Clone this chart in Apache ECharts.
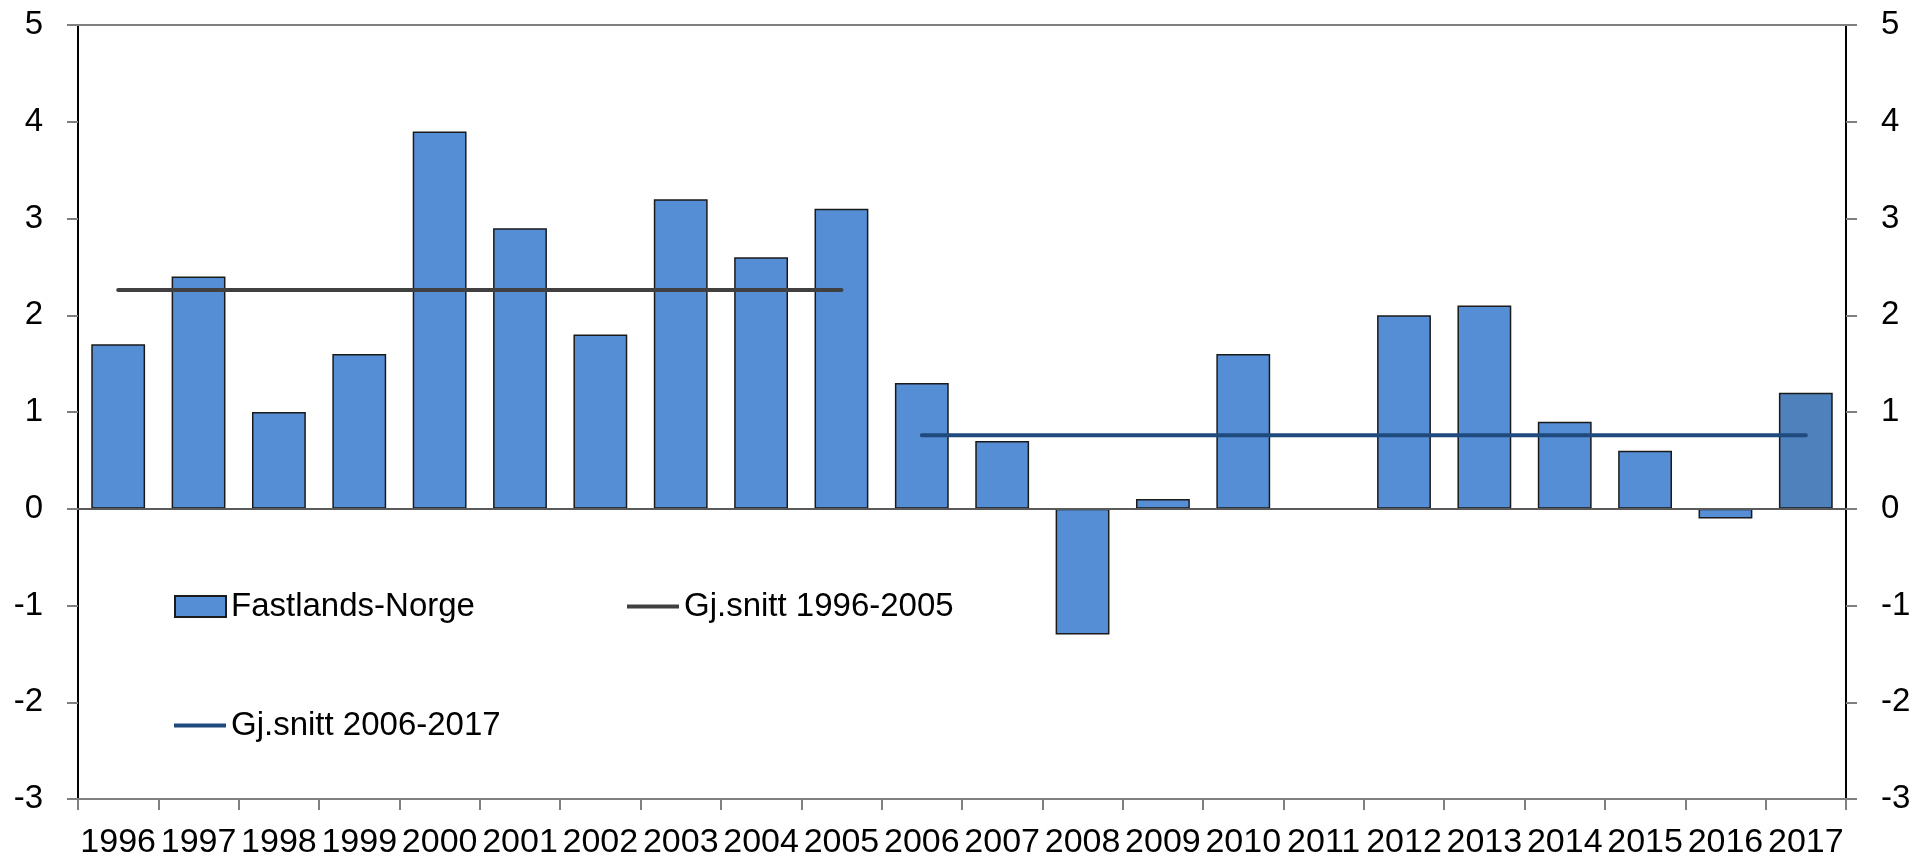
<!DOCTYPE html>
<html>
<head>
<meta charset="utf-8">
<script src="https://cdn.jsdelivr.net/npm/echarts@6/dist/echarts.min.js"></script>
<style>
html,body{margin:0;padding:0;background:#fff;}
#chart{width:1916px;height:863px;}
</style>
</head>
<body>
<div id="chart"></div>
<script>
const years = ['1996','1997','1998','1999','2000','2001','2002','2003','2004','2005','2006','2007','2008','2009','2010','2011','2012','2013','2014','2015','2016','2017'];
const fastlandsNorge = [1.7, 2.4, 1.0, 1.6, 3.9, 2.9, 1.8, 3.2, 2.6, 3.1, 1.3, 0.7, -1.3, 0.1, 1.6, 0, 2.0, 2.1, 0.9, 0.6, -0.1, 1.2];
const avgEarlyYears = ['1996','2005'];
const avgEarlyValue = 2.26;
const avgLateYears = ['2006','2017'];
const avgLateValue = 0.76;
const yTicks = [-3, -2, -1, 0, 1, 2, 3, 4, 5];

const FONT = 'Liberation Sans';
const barColor = '#558ED5';
const lastBarColor = '#4F81BD';
const earlyColor = '#404040';
const lateColor = '#1F4A7E';

function rangeLine(range, value) {
  const a = years.indexOf(range[0]), b = years.indexOf(range[1]);
  return years.map((y, i) => (i >= a && i <= b) ? value : null);
}

const barData = fastlandsNorge.map((v, i) =>
  i === years.length - 1 ? { value: v, itemStyle: { color: lastBarColor } } : v);

const chart = echarts.init(document.getElementById('chart'), null, { renderer: 'canvas' });

const yAxisCommon = {
  type: 'value',
  min: yTicks[0],
  max: yTicks[yTicks.length - 1],
  interval: 1,
  splitLine: { show: false },
  axisLine: { show: true, lineStyle: { color: '#000', width: 2 } },
  axisTick: { show: true, inside: false, length: 11, lineStyle: { color: '#7f7f7f', width: 2 } },
  axisLabel: { color: '#000', fontSize: 33, fontFamily: FONT, margin: 35 }
};

const legendText = { color: '#000', fontSize: 33, fontFamily: FONT, lineHeight: 33 };

chart.setOption({
  animation: false,
  backgroundColor: '#fff',
  grid: { left: 78, right: 70, top: 25, bottom: 64, containLabel: false },
  xAxis: [
    {
      type: 'category',
      data: years,
      position: 'bottom',
      boundaryGap: true,
      axisLine: { show: true, onZero: false, lineStyle: { color: '#808080', width: 2 } },
      axisTick: { show: true, length: 11, lineStyle: { color: '#808080', width: 2 } },
      axisLabel: { color: '#000', fontSize: 34, fontFamily: FONT, margin: 27, interval: 0 },
      splitLine: { show: false }
    },
    {
      type: 'category',
      data: years,
      position: 'top',
      boundaryGap: true,
      axisLine: { show: true, onZero: false, lineStyle: { color: '#808080', width: 2 } },
      axisTick: { show: false },
      axisLabel: { show: false },
      splitLine: { show: false }
    }
  ],
  yAxis: [
    Object.assign({}, yAxisCommon, { position: 'left' }),
    Object.assign({}, yAxisCommon, { position: 'right' })
  ],
  legend: [
    { padding: 0, left: 174, top: 590, itemWidth: 51, itemHeight: 21, icon: 'rect',
      selectedMode: false, textStyle: legendText, data: ['Fastlands-Norge'] },
    { padding: 0, left: 627, top: 590, itemWidth: 52, itemHeight: 4, icon: 'rect',
      selectedMode: false, textStyle: legendText, data: ['Gj.snitt 1996-2005'] },
    { padding: 0, left: 174, top: 709, itemWidth: 52, itemHeight: 4, icon: 'rect',
      selectedMode: false, textStyle: legendText, data: ['Gj.snitt 2006-2017'] }
  ],
  series: [
    {
      name: 'Fastlands-Norge',
      type: 'bar',
      data: barData,
      barWidth: '67%',
      itemStyle: { color: barColor, borderColor: '#1a1a1a', borderWidth: 1.5 },
      markLine: {
        silent: true,
        symbol: 'none',
        label: { show: false },
        lineStyle: { color: '#5a5a5a', width: 2, type: 'solid' },
        data: [{ yAxis: 0 }]
      },
      z: 2
    },
    {
      name: 'Gj.snitt 1996-2005',
      type: 'line',
      data: rangeLine(avgEarlyYears, avgEarlyValue),
      symbol: 'none',
      lineStyle: { color: earlyColor, width: 4, cap: 'round' },
      itemStyle: { color: earlyColor },
      z: 3
    },
    {
      name: 'Gj.snitt 2006-2017',
      type: 'line',
      data: rangeLine(avgLateYears, avgLateValue),
      symbol: 'none',
      lineStyle: { color: lateColor, width: 4, cap: 'round' },
      itemStyle: { color: lateColor },
      z: 3
    }
  ]
});
</script>
</body>
</html>
